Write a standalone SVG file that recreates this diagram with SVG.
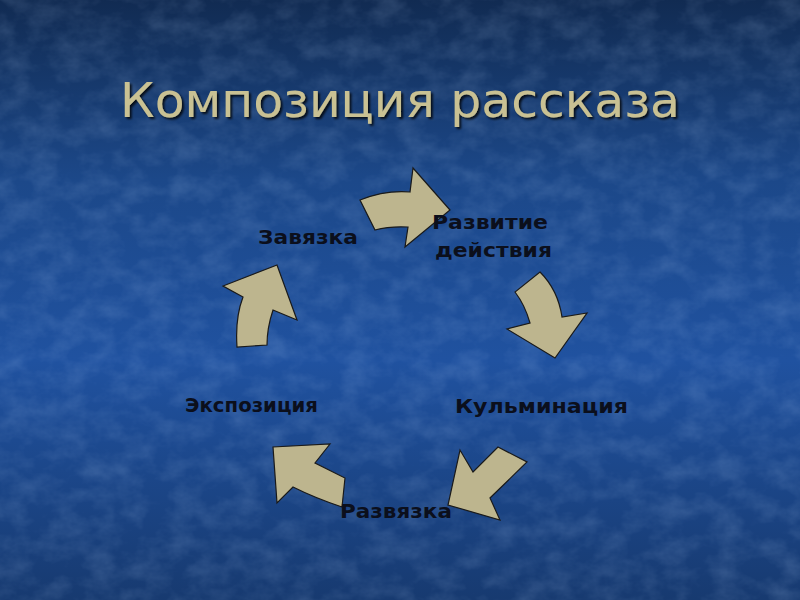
<svg xmlns="http://www.w3.org/2000/svg" width="800" height="600" viewBox="0 0 800 600">
<defs>
<linearGradient id="bg" x1="0" y1="0" x2="0" y2="1">
<stop offset="0" stop-color="#112b52"/>
<stop offset="0.3" stop-color="#1c4889"/>
<stop offset="0.6" stop-color="#2052a0"/>
<stop offset="1" stop-color="#173a70"/>
</linearGradient>
<filter id="tex" x="0" y="0" width="100%" height="100%">
<feTurbulence type="fractalNoise" baseFrequency="0.035 0.05" numOctaves="4" seed="7" result="n"/>
<feColorMatrix type="matrix" values="0 0 0 0 0.55  0 0 0 0 0.72  0 0 0 0 1  0 0 0 0.5 -0.18" in="n"/>
</filter>
<filter id="sh" x="-10%" y="-10%" width="120%" height="130%">
<feDropShadow dx="2" dy="2" stdDeviation="1" flood-color="#000" flood-opacity="0.8"/>
</filter>
<style>
.arrow{fill:#bdb58e;stroke:#1a1a1a;stroke-width:1.2;stroke-linejoin:miter}
.lbl{font-family:"DejaVu Sans","Verdana",sans-serif;font-weight:bold;font-size:19px;fill:#0b0f1c}
.title{font-family:"DejaVu Sans","Verdana",sans-serif;font-size:48px;fill:#c9c193}
</style>
</defs>
<rect width="800" height="600" fill="url(#bg)"/>
<rect width="800" height="600" filter="url(#tex)" opacity="0.55"/>
<text class="title" x="120" y="117" textLength="560" lengthAdjust="spacingAndGlyphs" filter="url(#sh)">Композиция рассказа</text>
<g id="connectors">
<path class="arrow" d="M360,200 Q385,190 410,192 L413,168 L450,210 L405,247 L408,227 Q390,226 375,230 Z"/>
<path class="arrow" d="M540,272 Q558,290 562,317 L587,313 L555,358 L507,329 L530,323 Q525,305 515,292 Z"/>
<path class="arrow" d="M498,447 L527,462 L490,498 L500,520 L448,505 L460,450 L473,472 Z"/>
<path class="arrow" d="M345,478 L342,507 Q315,498 293,487 L277,503 L273,447 L330,444 L315,463 Z"/>
<path class="arrow" d="M237,347 Q235,318 243,297 L223,286 L277,265 L297,320 L273,310 Q267,328 267,345 Z"/>
</g>
<g id="node-zavyazka"><text class="lbl" x="258" y="244" textLength="100" lengthAdjust="spacingAndGlyphs">Завязка</text></g>
<g id="node-razvitie"><text class="lbl" x="432" y="229" textLength="116" lengthAdjust="spacingAndGlyphs">Развитие</text><text class="lbl" x="435" y="257" textLength="117" lengthAdjust="spacingAndGlyphs">действия</text></g>
<g id="node-kulminaciya"><text class="lbl" x="455" y="413" textLength="173" lengthAdjust="spacingAndGlyphs">Кульминация</text></g>
<g id="node-razvyazka"><text class="lbl" x="340" y="518" textLength="112" lengthAdjust="spacingAndGlyphs">Развязка</text></g>
<g id="node-ekspoziciya"><text class="lbl" x="185" y="412" textLength="133" lengthAdjust="spacingAndGlyphs">Экспозиция</text></g>
</svg>
